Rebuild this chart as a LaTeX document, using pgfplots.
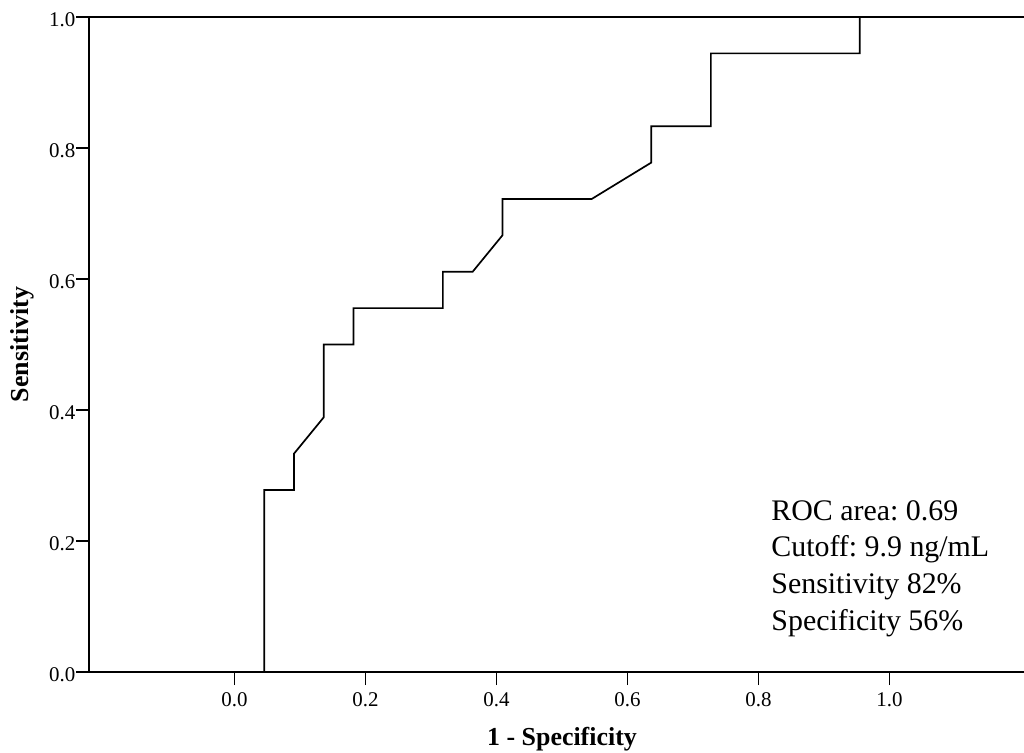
\documentclass[border=0pt]{standalone}
\usepackage{fontspec}
\setmainfont{Liberation Serif}
\usepackage{pgfplots}
\pgfplotsset{compat=1.18}
\frenchspacing

\begin{document}
\begin{tikzpicture}
\begin{axis}[
    scale only axis,
    width=946bp,
    height=655bp,
    xmin=-0.222, xmax=1.222,
    ymin=0, ymax=1,
    xtick={0,0.2,0.4,0.6,0.8,1.0},
    ytick={0,0.2,0.4,0.6,0.8,1.0},
    xtick pos=bottom,
    ytick pos=left,
    tick align=outside,
    major tick length=13bp,
    axis line style={line width=1.7bp},
    every tick/.style={black, line width=1.7bp},
    /pgf/number format/assume math mode=true,
    /pgf/number format/fixed,
    /pgf/number format/fixed zerofill,
    /pgf/number format/precision=1,
    tick label style={font=\fontsize{21}{24}\selectfont},
    xticklabel style={yshift=-4bp},
    yticklabel style={inner xsep=0.5bp, yshift=-3bp},
    xlabel={1 - Specificity},
    ylabel={Sensitivity},
    xlabel style={font=\fontsize{26}{30}\selectfont\bfseries,
        at={(axis description cs:0.5,0)}, anchor=base, yshift=-73bp},
    ylabel style={font=\fontsize{26}{30}\selectfont\bfseries,
        at={(axis description cs:-0.0708,0.5)}, anchor=center},
    clip=false,
]
\addplot[black, line width=1.7bp, line join=miter] coordinates {
    (0.04545,0) (0.04545,0.27778) (0.09091,0.27778) (0.09091,0.33333)
    (0.13636,0.38889) (0.13636,0.5) (0.18182,0.5) (0.18182,0.55556)
    (0.31818,0.55556) (0.31818,0.61111) (0.36364,0.61111)
    (0.40909,0.66667) (0.40909,0.72222) (0.54545,0.72222)
    (0.63636,0.77778) (0.63636,0.83333) (0.72727,0.83333)
    (0.72727,0.94444) (0.95455,0.94444) (0.95455,1)
};
\coordinate (ll) at (rel axis cs:0,0);
\node[anchor=base west, inner sep=0pt, font=\fontsize{30}{36}\selectfont] at (axis cs:0.8194,0.231) {ROC area: 0.69};
\node[anchor=base west, inner sep=0pt, font=\fontsize{30}{36}\selectfont] at (axis cs:0.8194,0.1756) {Cutoff: 9.9 ng/mL};
\node[anchor=base west, inner sep=0pt, font=\fontsize{30}{36}\selectfont] at (axis cs:0.8194,0.1206) {Sensitivity 82\%};
\node[anchor=base west, inner sep=0pt, font=\fontsize{30}{36}\selectfont] at (axis cs:0.8194,0.0626) {Specificity 56\%};
\end{axis}
\pgfresetboundingbox
\path ([xshift=-89bp,yshift=-81bp]ll) rectangle ([xshift=935bp,yshift=672bp]ll);
\end{tikzpicture}
\end{document}
